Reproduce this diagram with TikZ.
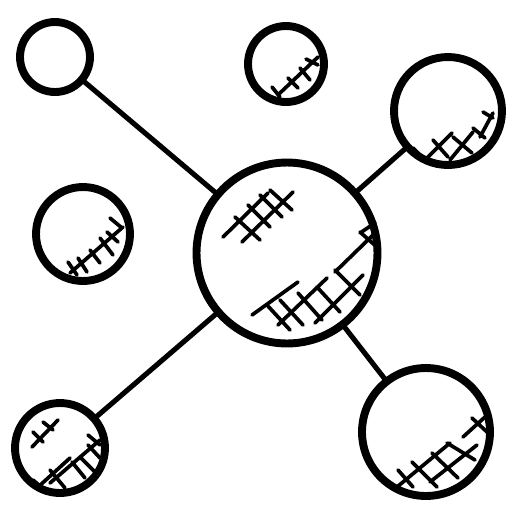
\documentclass[tikz,border=0pt]{standalone}
\begin{document}
\begin{tikzpicture}[x=0.02cm,y=-0.02cm,
  ball/.style={draw,circle,line width=4.5pt,inner sep=0pt,outer sep=0pt},
  link/.style={line width=2.9pt},
  hatch/.style={line width=2.1pt,line cap=round}]
  \useasboundingbox (0,0) rectangle (512,512);
  \node[ball,minimum size=3.62cm] (hub) at (287,253) {};
  \node[ball,minimum size=1.4cm] (tl) at (55,57) {};
  \node[ball,minimum size=1.52cm] (tm) at (286,64) {};
  \node[ball,minimum size=2.16cm] (tr) at (448,111) {};
  \node[ball,minimum size=1.88cm] (ml) at (83,234) {};
  \node[ball,minimum size=1.8cm] (bl) at (60,448) {};
  \node[ball,minimum size=2.56cm] (br) at (426,432) {};
  \draw[link] (tl) -- (hub);
  \draw[link] (tr) -- (hub);
  \draw[link] (hub) -- (bl);
  \draw[link] (hub) -- (br);
  % hatching
  \draw[hatch] (223,237) -- (268,193) (242,242) -- (293,192)
    (235,217) -- (260,240) (248,205) -- (270,227) (260,195) -- (282,217) (270,190) -- (292,210);
  \draw[hatch] (252,315) -- (298,282) (278,325) -- (327,278) (315,323) -- (363,275)
    (335,272) -- (373,235) (360,233) -- (375,223)
    (267,305) -- (290,330) (280,300) -- (303,325) (298,293) -- (322,320)
    (317,287) -- (340,312) (335,270) -- (360,295) (360,232) -- (378,248);
  \draw[hatch] (280,93) -- (318,57)
    (272,87) -- (280,97) (288,78) -- (298,88) (300,68) -- (310,80) (306,59) -- (318,65);
  \draw[hatch] (425,160) -- (452,133) (450,160) -- (473,132) (480,137) -- (493,113)
    (413,148) -- (428,163) (433,140) -- (448,157) (453,137) -- (472,153)
    (473,128) -- (485,138) (483,112) -- (493,118);
  \draw[hatch] (70,273) -- (123,227)
    (68,262) -- (77,275) (78,258) -- (87,272) (90,250) -- (100,263)
    (100,238) -- (113,255) (107,232) -- (118,242) (110,218) -- (122,228);
  \draw[hatch] (32,447) -- (58,420) (33,432) -- (43,442) (43,422) -- (53,430)
    (37,488) -- (70,458) (50,483) -- (100,440)
    (33,480) -- (48,493) (50,470) -- (65,488) (72,462) -- (85,478)
    (80,457) -- (95,472) (88,445) -- (100,458) (88,435) -- (100,445);
  \draw[hatch] (397,487) -- (450,443) (430,482) -- (477,445) (463,437) -- (485,417)
    (398,470) -- (413,487) (412,462) -- (437,487) (432,453) -- (458,478)
    (447,443) -- (475,460) (472,418) -- (487,432);
\end{tikzpicture}
\end{document}
